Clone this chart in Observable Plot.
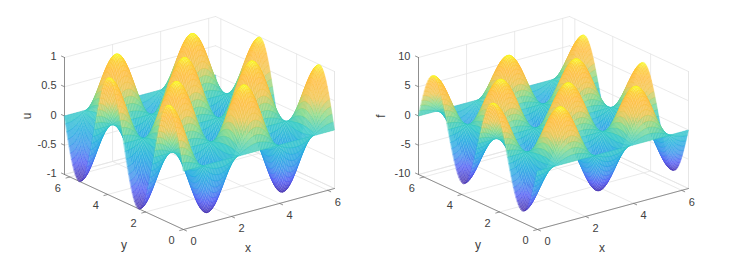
<!DOCTYPE html>
<html>
<head>
<meta charset="utf-8">
<script src="https://cdn.jsdelivr.net/npm/d3@7"></script>
<script src="https://cdn.jsdelivr.net/npm/@observablehq/plot@0.6"></script>
<style>
html,body{margin:0;padding:0;background:#fff}
#chart{display:flex;width:731px;height:263px}
svg{display:block}
</style>
</head>
<body>
<div id="chart"></div>
<script>
// Surface heights: the surface separates into a profile
// along x and a profile along y, sampled on a 101-point mesh across [0, 2π].
const xLimit = 6.2832;
const xProfile = [
1,.992,.969,.930,.876,.809,.729,.637,.536,.426,.309,.187,.063,-.063,-.187,-.309,-.426,-.536,-.637,-.729,-.809,-.876,-.930,-.969,-.992,
-1,-.992,-.969,-.930,-.876,-.809,-.729,-.637,-.536,-.426,-.309,-.187,-.063,.063,.187,.309,.426,.536,.637,.729,.809,.876,.930,.969,.992,
1,.992,.969,.930,.876,.809,.729,.637,.536,.426,.309,.187,.063,-.063,-.187,-.309,-.426,-.536,-.637,-.729,-.809,-.876,-.930,-.969,-.992,
-1,-.992,-.969,-.930,-.876,-.809,-.729,-.637,-.536,-.426,-.309,-.187,-.063,.063,.187,.309,.426,.536,.637,.729,.809,.876,.930,.969,.992,
1];
const yProfile = [
0,.125,.249,.368,.482,.588,.685,.771,.844,.905,.951,.982,.998,.998,.982,.951,.905,.844,.771,.685,.588,.482,.368,.249,.125,
0,-.125,-.249,-.368,-.482,-.588,-.685,-.771,-.844,-.905,-.951,-.982,-.998,-.998,-.982,-.951,-.905,-.844,-.771,-.685,-.588,-.482,-.368,-.249,-.125,
0,.125,.249,.368,.482,.588,.685,.771,.844,.905,.951,.982,.998,.998,.982,.951,.905,.844,.771,.685,.588,.482,.368,.249,.125,
0,-.125,-.249,-.368,-.482,-.588,-.685,-.771,-.844,-.905,-.951,-.982,-.998,-.998,-.982,-.951,-.905,-.844,-.771,-.685,-.588,-.482,-.368,-.249,-.125,
0];
const uPeak = 1;
const fPeak = -8;

const xTicks = [0, 2, 4, 6];
const yTicks = [0, 2, 4, 6];
const uTicks = [-1, -0.5, 0, 0.5, 1];
const fTicks = [-10, -5, 0, 5, 10];

const parulaStops = [0, .125, .25, .375, .5, .625, .75, .875, .95, 1];
const parulaColors = ["#3e26a8","#4852f4","#2b8ceb","#12a8dc","#20c4c0","#7cd67c","#f0c040","#ffb830","#fcc820","#f9fb15"];
const faceWhiteMix = 0.3;

const tickFont = "Liberation Sans, Arial, sans-serif";
const tickColor = "#404040";

function panel({zName, zTicks, peak, width, domainRight}) {
  const zMin = zTicks[0], zMax = zTicks[zTicks.length - 1];
  // 3-D to view plane, orthographic, in units of the plot's own x/y scales.
  const px = (x, y) => 151 * x / xLimit - 119 * y / xLimit;
  const py = (x, y, z) => 41 * x / xLimit + 55 * y / xLimit + 117 * (z - zMin) / (zMax - zMin);
  const pt = (x, y, z, extra) => ({sx: px(x, y), sy: py(x, y, z), ...extra});

  const levels = parulaStops.map(s => -Math.abs(peak) + 2 * Math.abs(peak) * s);
  const faceScale = d3.scaleLinear().domain(levels).range(parulaColors).clamp(true);
  const faceColor = v => d3.interpolateRgb(faceScale(v), "white")(faceWhiteMix);

  const n = xProfile.length;
  const mesh = i => xLimit * i / (n - 1);
  const height3 = (i, j) => peak * xProfile[i] * yProfile[j];
  const quads = [];
  let id = 0;
  // back-to-front so nearer cells cover farther ones
  for (let i = n - 2; i >= 0; --i) for (let j = n - 2; j >= 0; --j) {
    const corners = [[i, j], [i + 1, j], [i + 1, j + 1], [i, j + 1]];
    const level = d3.mean(corners, ([a, b]) => height3(a, b));
    const face = faceColor(level);
    for (const [a, b] of corners) quads.push(pt(mesh(a), mesh(b), height3(a, b), {id, level, face}));
    id++;
  }

  const grid = [];
  let g = 0;
  const seg = (a, b) => { grid.push({...a, g}, {...b, g}); g++; };
  for (const x of [...xTicks]) {
    seg(pt(x, xLimit, zMin), pt(x, xLimit, zMax));
    seg(pt(x, 0, zMin), pt(x, xLimit, zMin));
  }
  for (const y of [...yTicks]) {
    seg(pt(xLimit, y, zMin), pt(xLimit, y, zMax));
    seg(pt(0, y, zMin), pt(xLimit, y, zMin));
  }
  for (const z of zTicks) {
    seg(pt(0, xLimit, z), pt(xLimit, xLimit, z));
    seg(pt(xLimit, xLimit, z), pt(xLimit, 0, z));
  }
  seg(pt(xLimit, 0, zMin), pt(xLimit, 0, zMax));
  seg(pt(xLimit, 0, zMin), pt(xLimit, xLimit, zMin));
  seg(pt(0, xLimit, zMin), pt(xLimit, xLimit, zMin));

  const axes = [];
  g = 0;
  const aseg = (a, b) => { axes.push({...a, g}, {...b, g}); g++; };
  aseg(pt(0, 0, zMin), pt(xLimit, 0, zMin));
  aseg(pt(0, 0, zMin), pt(0, xLimit, zMin));
  aseg(pt(0, xLimit, zMin), pt(0, xLimit, zMax));
  const tickLen = 0.16;
  for (const x of xTicks) aseg(pt(x, 0, zMin), pt(x, -tickLen, zMin));
  for (const y of yTicks) aseg(pt(0, y, zMin), pt(-tickLen, y, zMin));
  for (const z of zTicks) aseg(pt(0, xLimit, z), pt(0, xLimit + tickLen, z));

  const textOpts = {x: "sx", y: "sy", text: "t", fontFamily: tickFont, fill: tickColor};
  return Plot.plot({
    width, height: 263, margin: 0,
    x: {domain: [-183, domainRight], range: [0, width], axis: null},
    y: {domain: [-34, 229], range: [263, 0], axis: null},
    color: {type: "linear", domain: levels, range: parulaColors, interpolate: "rgb"},
    marks: [
      Plot.line(grid, {x: "sx", y: "sy", z: "g", stroke: "#e4e4e4", strokeWidth: 0.8}),
      Plot.line(axes, {x: "sx", y: "sy", z: "g", stroke: "#777", strokeWidth: 0.8}),
      Plot.line(quads, {x: "sx", y: "sy", z: "id", stroke: "level", fill: {value: "face", scale: null}, strokeWidth: 0.35, curve: "linear-closed"}),
      Plot.text(zTicks.map(z => pt(0, xLimit, z, {t: String(z)})), {...textOpts, fontSize: 11, textAnchor: "end", dx: -8, dy: -1}),
      Plot.text(xTicks.map(x => pt(x, 0, zMin, {t: String(x)})), {...textOpts, fontSize: 11, dx: 10, dy: 12}),
      Plot.text(yTicks.map(y => pt(0, y, zMin, {t: String(y)})), {...textOpts, fontSize: 11, dx: -12, dy: 11}),
      Plot.text([pt(xLimit / 2, 0, zMin, {t: "x"})], {...textOpts, fontSize: 12, dx: -11, dy: 39}),
      Plot.text([pt(0, xLimit / 2, zMin, {t: "y"})], {...textOpts, fontSize: 12, dy: 43}),
      Plot.text([pt(0, xLimit, (zMin + zMax) / 2, {t: zName})], {...textOpts, fontSize: 12, rotate: -90, dx: -37})
    ]
  });
}

const chart = document.getElementById("chart");
chart.append(panel({zName: "u", zTicks: uTicks, peak: uPeak, width: 354, domainRight: 171}));
chart.append(panel({zName: "f", zTicks: fTicks, peak: fPeak, width: 377, domainRight: 194}));
</script>
</body>
</html>
